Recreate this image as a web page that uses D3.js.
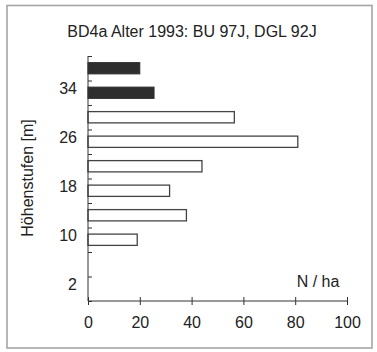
<!DOCTYPE html>
<html>
<head>
<meta charset="utf-8">
<script src="https://cdn.jsdelivr.net/npm/d3@7"></script>
<style>
  body { margin: 0; background: #fff; }
  svg text { font-family: "Liberation Sans", Arial, sans-serif; fill: #222; }
</style>
</head>
<body>
<script>
// Data: height classes (class midpoints, m), trees per ha
const heightClasses = [2, 6, 10, 14, 18, 22, 26, 30, 34, 38];
const lightValues   = [0, 0, 19, 38, 31.5, 44, 81, 56.5, 0, 0];
const darkValues    = [0, 0, 0, 0, 0, 0, 0, 0, 25.5, 20];
const xTicks = [0, 20, 40, 60, 80, 100];
const yTickMarks = [0, 4, 8, 12, 16, 20, 24, 28, 32, 36, 40];
const yTickLabels = [2, 10, 18, 26, 34];
const titleText = "BD4a Alter 1993: BU 97J, DGL 92J";
const yTitle = "Höhenstufen [m]";
const xTitle = "N / ha";

const W = 377, H = 352;
const FONT = 16;
const svg = d3.select("body").append("svg")
  .attr("width", W).attr("height", H);

// outer frame
svg.append("rect")
  .attr("x", 7).attr("y", 5.5)
  .attr("width", 365).attr("height", 342.5)
  .attr("fill", "none").attr("stroke", "#a5a5a5").attr("stroke-width", 1.6);

const x = d3.scaleLinear().domain([0, 100]).range([88, 347]);
const y = d3.scaleLinear().domain([0, 40]).range([301, 56]);

const classW = 4;
const barH = (y(0) - y(classW)) * 0.46;

// bars
const g = svg.append("g");
g.selectAll("rect.light")
  .data(heightClasses.map((h, i) => ({ h, v: lightValues[i] })).filter(d => d.v > 0))
  .enter().append("rect")
    .attr("class", "light")
    .attr("x", x(0))
    .attr("y", d => y(d.h) - barH / 2)
    .attr("width", d => x(d.v) - x(0))
    .attr("height", barH)
    .attr("fill", "#fff")
    .attr("stroke", "#444")
    .attr("stroke-width", 1.3);

g.selectAll("rect.dark")
  .data(heightClasses.map((h, i) => ({ h, v: darkValues[i] })).filter(d => d.v > 0))
  .enter().append("rect")
    .attr("class", "dark")
    .attr("x", x(0))
    .attr("y", d => y(d.h) - barH / 2)
    .attr("width", d => x(d.v) - x(0))
    .attr("height", barH)
    .attr("fill", "#2e2e2e")
    .attr("stroke", "#2e2e2e")
    .attr("stroke-width", 1);

// x axis
const xAxis = svg.append("g")
  .attr("transform", `translate(0,${y(0)})`)
  .call(d3.axisBottom(x).tickValues(xTicks).tickSize(4).tickPadding(11.5));
xAxis.selectAll(".tick line").attr("y1", -4).attr("stroke", "#333");
xAxis.select(".domain").attr("stroke", "#333").attr("d", `M${x(0)},0H${x(100)}`);
xAxis.selectAll("text").attr("font-size", FONT)
  .style("font-family", "Liberation Sans, Arial, sans-serif").attr("fill", "#222");

// y axis: tick marks
const yAxis = svg.append("g")
  .attr("transform", `translate(${x(0)},0)`)
  .call(d3.axisLeft(y).tickValues(yTickMarks).tickSize(3).tickFormat(""));
yAxis.selectAll(".tick line").attr("x2", 4).attr("stroke", "#333");
yAxis.select(".domain").attr("stroke", "#333").attr("d", `M0,${y(0)}V${y(40)}`);

// y axis: labels between marks
svg.append("g").selectAll("text")
  .data(yTickLabels)
  .enter().append("text")
    .attr("x", x(0) - 11)
    .attr("y", d => y(d) - 4)
    .attr("dy", "0.35em")
    .attr("text-anchor", "end")
    .attr("font-size", FONT)
    .text(d => d);

// titles
svg.append("text")
  .attr("x", 192).attr("y", 37)
  .attr("text-anchor", "middle")
  .attr("font-size", FONT)
  .text(titleText);

svg.append("text")
  .attr("transform", `translate(33,${178}) rotate(-90)`)
  .attr("text-anchor", "middle")
  .attr("font-size", FONT)
  .text(yTitle);

svg.append("text")
  .attr("x", 318).attr("y", 287)
  .attr("text-anchor", "middle")
  .attr("font-size", FONT)
  .text(xTitle);
</script>
</body>
</html>
